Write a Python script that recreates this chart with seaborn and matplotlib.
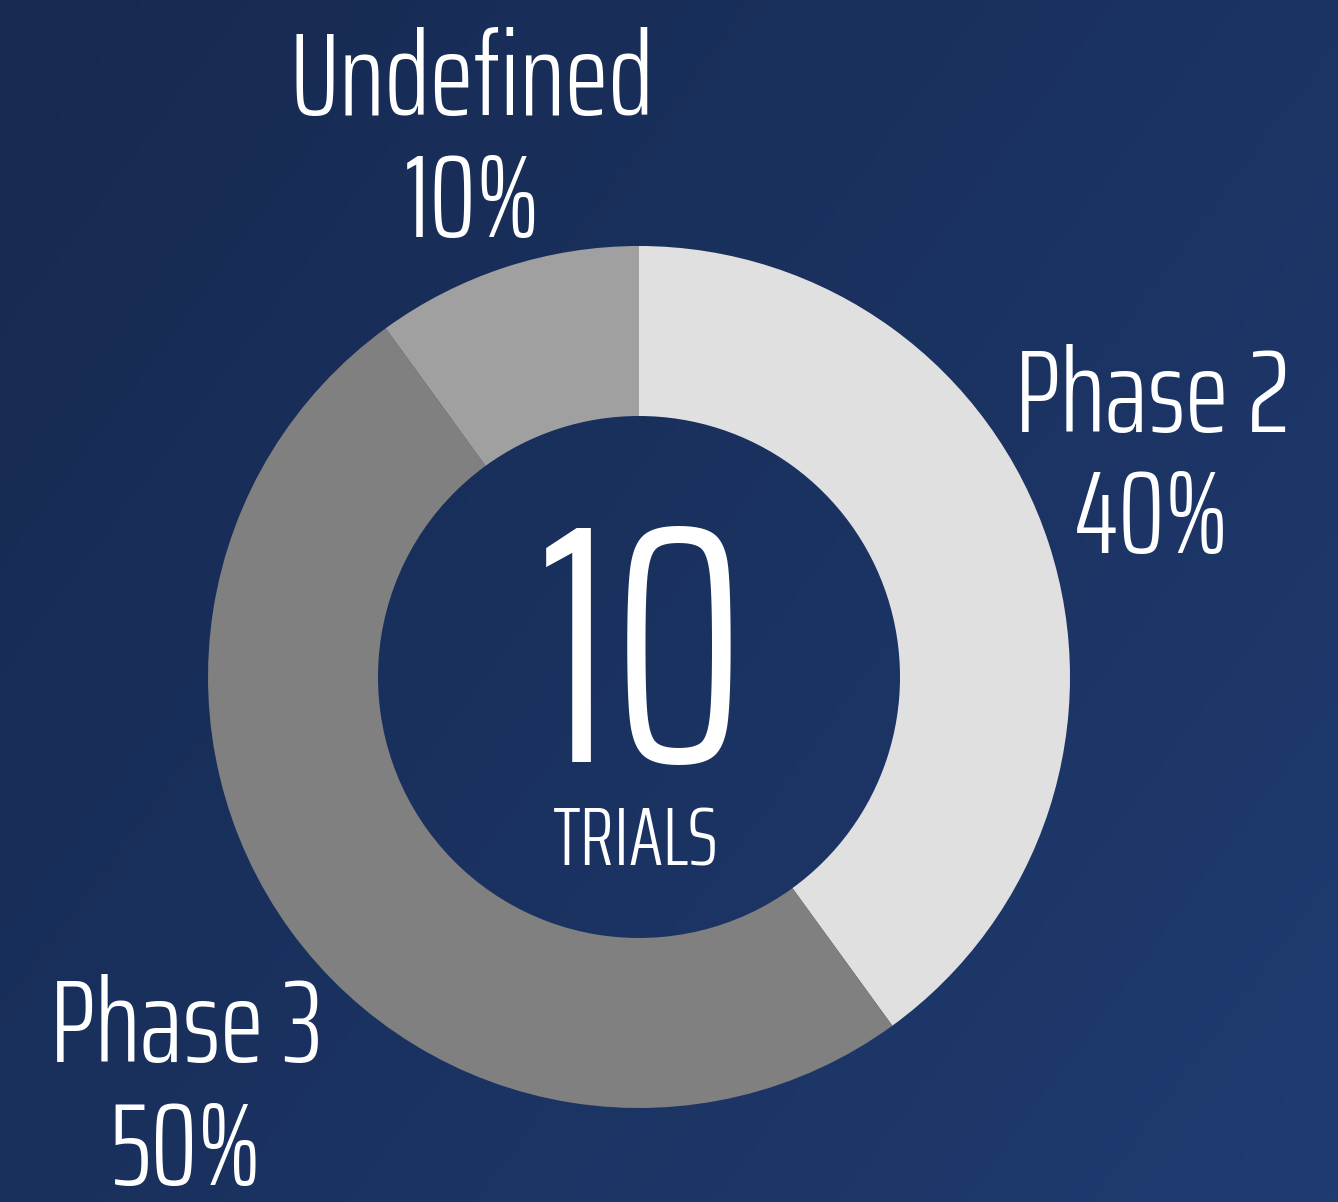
import matplotlib
matplotlib.use("Agg")
import matplotlib.pyplot as plt
import numpy as np
import seaborn as sns

phases = ["Phase 2", "Phase 3", "Undefined"]
shares = [40, 50, 10]
colors = ["#e0e0e0", "#808080", "#a0a0a0"]
total_trials = 10

sns.set_style("white")
plt.rcParams['font.family'] = ['Saira ExtraCondensed', 'DejaVu Sans']

W, H = 1338, 1202
fig = plt.figure(figsize=(W / 100, H / 100), dpi=100)

# background gradient
bg = fig.add_axes([0, 0, 1, 1])
yy, xx = np.mgrid[0:1:200j, 0:1:200j]
t = (xx * 0.6 + yy * 0.4)
c0 = np.array([0x16, 0x29, 0x50]) / 255
c1 = np.array([0x1f, 0x3b, 0x70]) / 255
img = c0[None, None, :] * (1 - t[..., None]) + c1[None, None, :] * t[..., None]
bg.imshow(img, extent=[0, 1, 0, 1], aspect="auto", origin="upper")
bg.set_axis_off()

cx, cy, r = 639, 677, 431
ax = fig.add_axes([(cx - r) / W, (H - cy - r) / H, 2 * r / W, 2 * r / H])
ax.pie(shares, colors=colors, startangle=90, counterclock=False, radius=1,
       wedgeprops=dict(width=1 - 261 / 431, edgecolor="none"))
ax.set_xlim(-1, 1)
ax.set_ylim(-1, 1)
ax.set_axis_off()
ax.patch.set_alpha(0)


def px(x, y):
    return x / W, 1 - y / H


# label centre x, baseline of name, baseline of percent
lab_pos = {"Phase 2": (1152, 432, 553),
           "Phase 3": (186, 1062, 1185),
           "Undefined": (472, 115, 237)}
for name, s in zip(phases, shares):
    x, y1, y2 = lab_pos[name]
    fig.text(*px(x, y1), name, color="white", fontsize=85, weight=300,
             ha="center", va="baseline")
    fig.text(*px(x, y2), f"{s}%", color="white", fontsize=85, weight=300,
             ha="center", va="baseline")

fig.text(*px(642, 762), str(total_trials), color="white", fontsize=244, weight=300,
         ha="center", va="baseline")
fig.text(*px(636, 865), "TRIALS", color="white", fontsize=60, weight=300,
         ha="center", va="baseline")

fig.savefig("out.png", dpi=100)
